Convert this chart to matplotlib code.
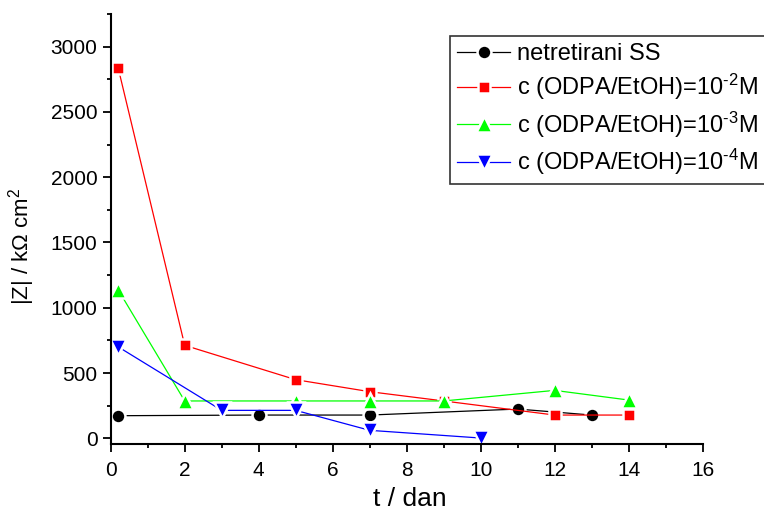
import matplotlib
matplotlib.use("Agg")
import matplotlib.pyplot as plt
from matplotlib.ticker import MultipleLocator

plt.rcParams['font.family'] = ['Liberation Sans', 'DejaVu Sans']
plt.rcParams['mathtext.default'] = 'regular'

# data
x_ss = [0.2, 4, 7, 11, 13]
y_ss = [173, 178, 178, 224, 178]
x_c2 = [0.2, 2, 5, 7, 9, 12, 14]
y_c2 = [2839, 712, 449, 357, 286, 178, 178]
x_c3 = [0.2, 2, 5, 7, 9, 12, 14]
y_c3 = [1138, 286, 286, 286, 286, 367, 293]
x_c4 = [0.2, 3, 5, 7, 10]
y_c4 = [701, 214, 214, 61, 2]

labels = ["netretirani SS",
          "c (ODPA/EtOH)=10$^{\u20102}$M",
          "c (ODPA/EtOH)=10$^{\u20103}$M",
          "c (ODPA/EtOH)=10$^{\u20104}$M"]

fig = plt.figure(figsize=(7.64, 5.12), dpi=100)
ax = fig.add_axes([110.7/764, 1-444.3/512, (702.7-110.7)/764, (444.3-14)/512])

common = dict(lw=0.9, mec='white', mew=1.8)
ax.plot(x_ss, y_ss, color='black', marker='o', ms=10.0, mfc='black', label=labels[0], **common)
ax.plot(x_c2, y_c2, color='#FF0000', marker='s', ms=9.2, mfc='#FF0000', label=labels[1], **common)
ax.plot(x_c3, y_c3, color='#00FF00', marker='^', ms=12.0, mfc='#00FF00', label=labels[2], **common)
ax.plot(x_c4, y_c4, color='#0000FF', marker='v', ms=12.0, mfc='#0000FF', label=labels[3], **common)

ax.set_xlim(0, 16)
ax.set_ylim(-46, 3250)
ax.xaxis.set_major_locator(MultipleLocator(2))
ax.xaxis.set_minor_locator(MultipleLocator(1))
ax.yaxis.set_minor_locator(MultipleLocator(250))
ax.set_yticks([0, 500, 1000, 1500, 2000, 2500, 3000])

for s in ['top', 'right']:
    ax.spines[s].set_visible(False)
for s in ['left', 'bottom']:
    ax.spines[s].set_linewidth(1.5)
ax.tick_params(which='major', direction='out', length=6, width=1.3, labelsize=15, pad=3.5)
ax.tick_params(axis='x', which='major', pad=6)
ax.tick_params(which='minor', direction='out', length=3, width=1.3)

ax.set_xlabel("t / dan", fontsize=19, va='center')
ax.xaxis.set_label_coords((410 - 110.7) / 592.0, -(499 - 444.3) / 430.3)
ax.set_ylabel("|Z| / k\u03a9 cm$^{2}$", fontsize=16, va='center')
ax.yaxis.set_label_coords(-(110.7 - 22) / 592.0, (444.3 - 246) / 430.3)

leg = fig.legend(loc='upper left', bbox_to_anchor=(450/764, 1-36/512),
                 fontsize=17, frameon=True, fancybox=False, edgecolor='black',
                 handlelength=2.25, handletextpad=0.3, borderpad=0.3,
                 labelspacing=0.3, borderaxespad=0)
leg.get_frame().set_linewidth(1.2)

fig.savefig("out.png", dpi=100)
